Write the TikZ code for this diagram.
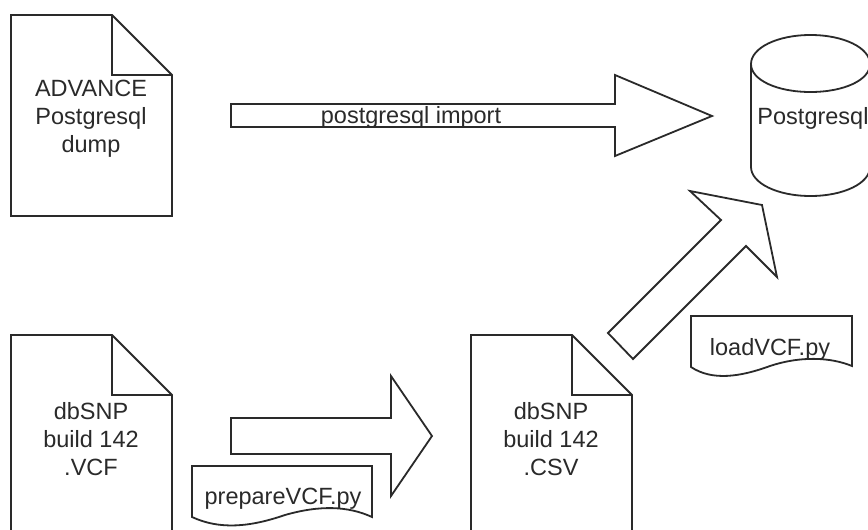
\documentclass[tikz,border=0pt]{standalone}
\usepackage{fontspec}
\setmainfont{Liberation Sans}
\definecolor{ink}{HTML}{2A2A2A}
\definecolor{txt}{HTML}{2A2A2A}
\tikzset{
  shapeline/.style={draw=ink,line width=1.8pt,line join=miter,fill=white},
  label/.style={text=txt,inner sep=0pt,align=center,font=\fontsize{23.5}{28}\selectfont},
}
\newcommand{\docshape}[3]{% x, y top, y bottom
  \draw[shapeline] (#1,#2) -- (#1+101,#2) -- (#1+161,#2+60) -- (#1+161,#3) -- (#1,#3) -- cycle;
  \draw[shapeline,fill=none] (#1+101,#2) -- (#1+101,#2+60) -- (#1+161,#2+60);
}
\begin{document}
\begin{tikzpicture}[x=1pt,y=-1pt]
\useasboundingbox (0,0) rectangle (868,530);
\clip (0,0) rectangle (868,530);
\fill[white] (0,0) rectangle (868,530);
% documents
\docshape{11}{15}{216}
\docshape{11}{335}{560}
\docshape{471}{335}{560}
\node[label,anchor=center] (advance) at (91,119) {ADVANCE\\Postgresql\\dump};
\node[label,anchor=center] (vcf) at (91,439) {dbSNP\\build 142\\.VCF};
\node[label,anchor=center] (csv) at (551,439) {dbSNP\\build 142\\.CSV};
% top arrow
\draw[shapeline] (231,104) -- (615,104) -- (615,75) -- (712,116) -- (615,156) -- (615,127) -- (231,127) -- cycle;
\node[label,anchor=center] (import) at (411,117) {postgresql import};
% lower arrow
\draw[shapeline] (231,418) -- (391,418) -- (391,376) -- (432,436) -- (391,496) -- (391,454) -- (231,454) -- cycle;
% diagonal arrow
\draw[shapeline] (608,333) -- (721,220) -- (690,191) -- (762,205) -- (777,277) -- (746,246) -- (633,359) -- cycle;
% cylinder
\draw[shapeline] (751,64) -- (751,167) .. controls (751,183) and (777,196) .. (810.5,196) .. controls (844,196) and (870,183) .. (870,167) -- (870,64) .. controls (870,48) and (844,35) .. (810.5,35) .. controls (777,35) and (751,48) .. (751,64) -- cycle;
\draw[shapeline,fill=none] (751,64) .. controls (751,80) and (777,92) .. (810.5,92) .. controls (844,92) and (870,80) .. (870,64);
\node[label,anchor=center] (pg) at (813,118) {Postgresql};
% scripts
\draw[shapeline] (192,466) -- (372,466) -- (372,517) .. controls (348,506) and (320,505) .. (285,515) .. controls (250,527) and (220,530) .. (192,517) -- cycle;
\node[label,anchor=center] (prepare) at (283,499) {prepareVCF.py};
\draw[shapeline] (691,316) -- (852,316) -- (852,366) .. controls (830,357) and (800,356) .. (770,366) .. controls (740,377) and (712,381) .. (691,367) -- cycle;
\node[label,anchor=center] (load) at (770,349) {loadVCF.py};
\end{tikzpicture}
\end{document}
